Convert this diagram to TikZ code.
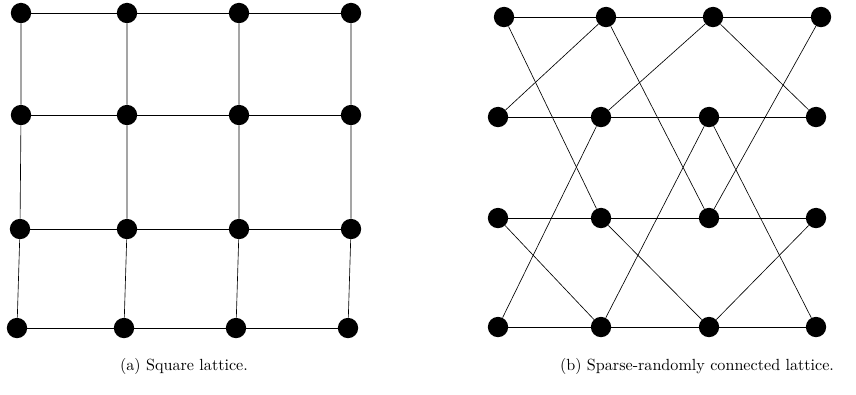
\documentclass[tikz,border=0pt]{standalone}
\begin{document}
\begin{tikzpicture}[x=0.62pt, y=-0.62pt,
		site/.style = {circle, fill = black, inner sep = 0pt, minimum size = 12.6pt}]
		\useasboundingbox (0,0) rectangle (856,394);
		% square lattice
		\node [site] (a11) at (21,13) {};
		\node [site] (a12) at (127,13) {};
		\node [site] (a13) at (239,13) {};
		\node [site] (a14) at (351,13) {};
		\node [site] (a21) at (21,115) {};
		\node [site] (a22) at (127,115) {};
		\node [site] (a23) at (239,115) {};
		\node [site] (a24) at (351,115) {};
		\node [site] (a31) at (20,229) {};
		\node [site] (a32) at (127,229) {};
		\node [site] (a33) at (239,229) {};
		\node [site] (a34) at (351,229) {};
		\node [site] (a41) at (17,328) {};
		\node [site] (a42) at (124,328) {};
		\node [site] (a43) at (236,328) {};
		\node [site] (a44) at (348,328) {};
		\foreach \row in {1,...,4}
			\draw (a\row1) -- (a\row2) -- (a\row3) -- (a\row4);
		\foreach \col in {1,...,4}
			\draw (a1\col) -- (a2\col) -- (a3\col) -- (a4\col);
		\node (capa) at (184,366) {(a) Square lattice.};
		% sparse lattice
		\node [site] (b11) at (504,17) {};
		\node [site] (b12) at (606,17) {};
		\node [site] (b13) at (713,17) {};
		\node [site] (b14) at (821,17) {};
		\node [site] (b21) at (498,117) {};
		\node [site] (b22) at (601,117) {};
		\node [site] (b23) at (709,117) {};
		\node [site] (b24) at (816,117) {};
		\node [site] (b31) at (498,218) {};
		\node [site] (b32) at (601,218) {};
		\node [site] (b33) at (709,218) {};
		\node [site] (b34) at (816,218) {};
		\node [site] (b41) at (498,327) {};
		\node [site] (b42) at (601,327) {};
		\node [site] (b43) at (709,327) {};
		\node [site] (b44) at (816,327) {};
		\foreach \row in {1,...,4}
			\draw (b\row1) -- (b\row2) -- (b\row3) -- (b\row4);
		\foreach \p/\q in {11/32, 12/21, 12/33, 13/22, 13/24, 14/33, 22/41, 23/42, 23/44, 31/42, 32/43, 34/43}
			\draw (b\p) -- (b\q);
		\node (capb) at (697,366) {(b) Sparse-randomly connected lattice.};
		%\draw (b21) -- (b31);
	\end{tikzpicture}
\end{document}
